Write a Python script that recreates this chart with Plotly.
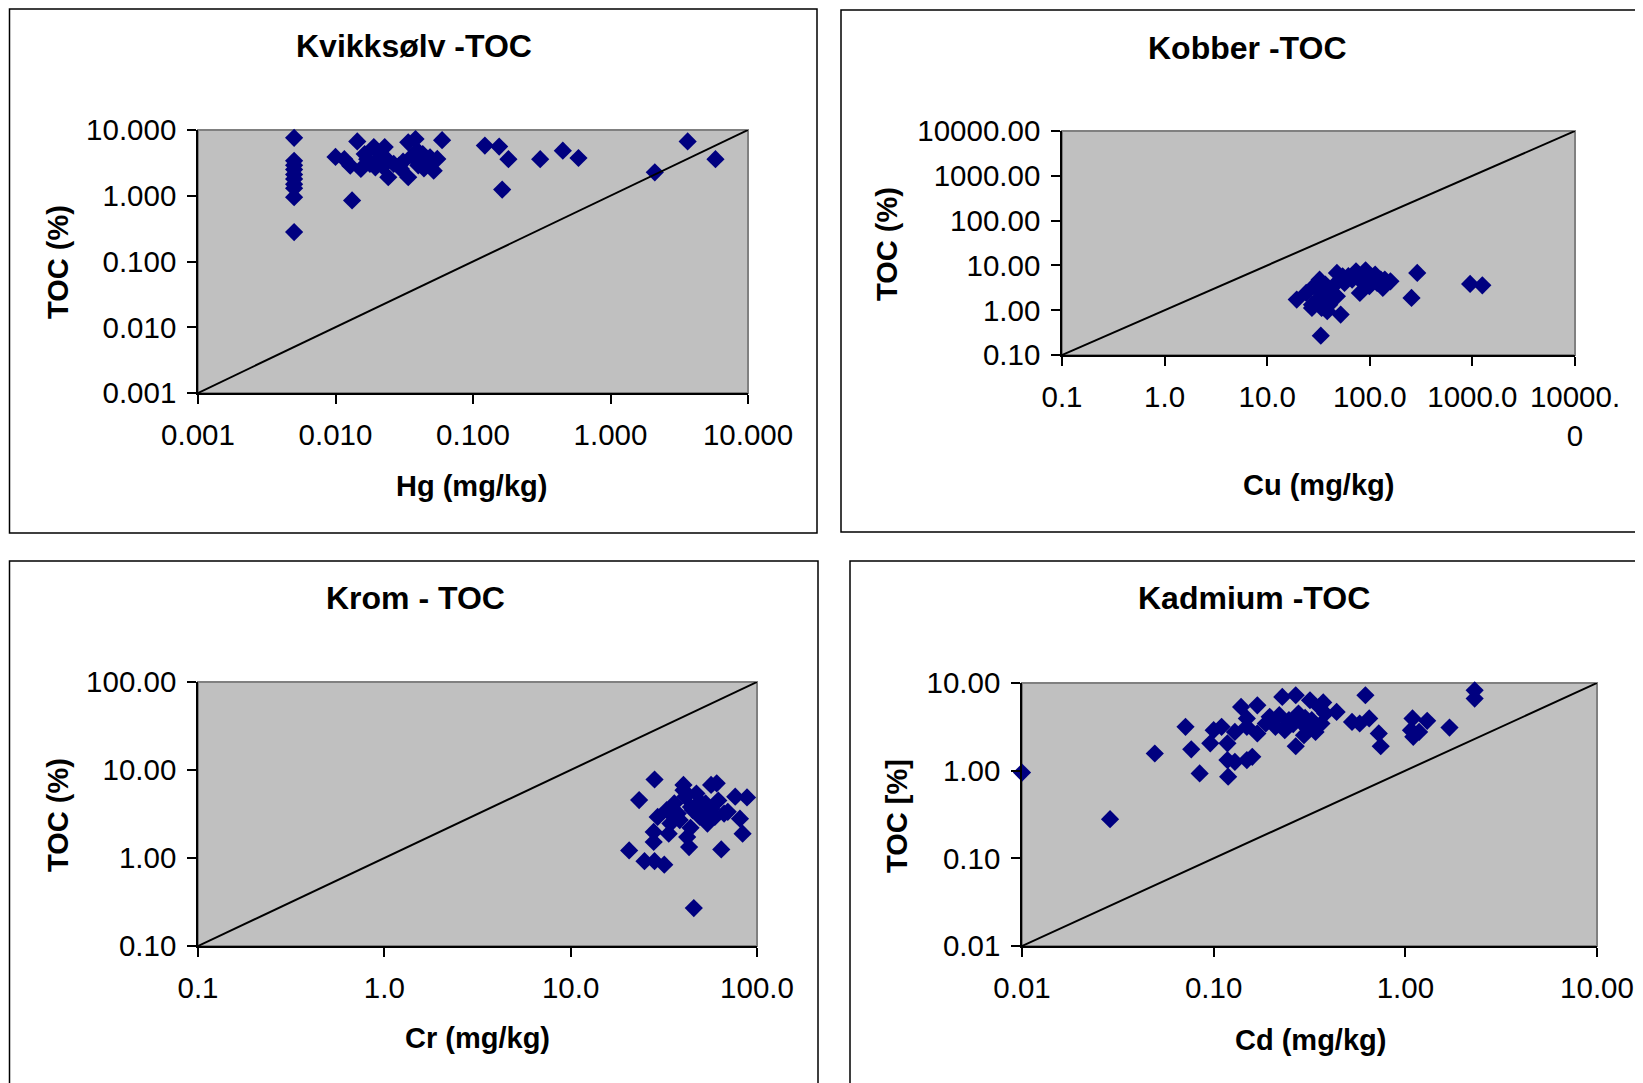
import math
import plotly.graph_objects as go

# ---------------- data ----------------
hg_x = [0.005, 0.005, 0.005, 0.005, 0.005, 0.005, 0.005, 0.005, 0.005, 0.005,
        0.010, 0.0116, 0.0132, 0.0144, 0.0128, 0.0153, 0.0163, 0.0178, 0.019, 0.0195,
        0.0228, 0.0242, 0.0242, 0.0265, 0.029, 0.0299, 0.0338, 0.0338, 0.0382, 0.0394,
        0.0406, 0.0431, 0.0459, 0.0487, 0.0518, 0.055, 0.0596, 0.017, 0.021, 0.022,
        0.031, 0.036, 0.040, 0.044, 0.122, 0.155, 0.181, 0.163, 0.308, 0.45,
        0.585, 2.1, 3.64, 5.8]
hg_toc = [7.6, 3.4, 2.9, 2.5, 2.1, 1.8, 1.5, 1.3, 0.95, 0.28,
          3.9, 3.6, 0.85, 6.7, 2.87, 2.56, 4.3, 3.05, 5.5, 2.71,
          5.5, 3.42, 1.91, 3.05, 2.87, 2.56, 1.91, 6.5, 7.3, 4.85,
          3.42, 4.3, 3.05, 3.85, 2.41, 3.63, 7.0, 3.6, 3.9, 2.8,
          3.3, 4.0, 2.9, 2.6, 5.8, 5.6, 3.6, 1.24, 3.6, 4.85,
          3.75, 2.27, 6.7, 3.6]

cu_x = [19.4, 24, 27.3, 32.4, 33.3, 38.5, 47.8, 52, 40, 43.8,
        56.7, 61.8, 73.4, 80, 91, 99, 112.8, 128, 134, 159,
        290, 255, 950, 1250, 28.5, 35.4, 36.9, 45.7, 54.3, 67.3,
        76.6, 87, 95, 103.5, 117.8, 140, 31.1, 40.2, 47.8, 33.9, 27.3]
cu_toc = [1.73, 2.43, 1.33, 4.8, 0.27, 0.95, 6.8, 0.8, 2.9, 2.05,
          4.07, 5.75, 7.4, 2.43, 7.8, 3.43, 6.25, 4.8, 3.15, 4.4,
          6.8, 1.88, 3.86, 3.6, 3.43, 2.43, 3.73, 3.73, 5.73, 4.83,
          5.26, 4.43, 5.73, 4.83, 4.07, 4.83, 1.73, 1.33, 2.05, 1.12, 1.12]

cr_x = [28.2, 23.3, 20.6, 24.9, 28.2, 31.8, 45.8, 64.3, 27.9, 27.9,
        42.2, 43.2, 33.6, 76.4, 88.4, 81, 83.7, 60.8, 56.7, 40.3,
        40.3, 29.3, 32.8, 36, 37.6, 41.2, 44.2, 47.3, 49.4, 53,
        54.2, 59.4, 66.6, 69.7, 34.3, 49.4, 45.2, 38.5, 51, 57,
        62, 44, 36.5]
cr_toc = [7.8, 4.55, 1.22, 0.92, 0.92, 0.84, 0.27, 1.25, 1.98, 1.52,
          1.73, 1.33, 1.89, 4.97, 4.88, 2.8, 1.89, 7.06, 6.76, 6.76,
          5.9, 2.93, 3.5, 4.17, 3.2, 4.97, 3.8, 5.4, 2.93, 4.17,
          2.46, 2.93, 3.2, 3.35, 2.46, 4.36, 3.5, 2.7, 3.3, 3.6,
          4.5, 2.2, 2.9]

cd_x = [0.01, 0.0288, 0.0493, 0.0713, 0.0764, 0.0845, 0.096, 0.1, 0.110, 0.118,
        0.119, 0.118, 0.129, 0.139, 0.149, 0.159, 0.149, 0.149, 0.129, 0.169,
        0.169, 0.196, 0.187, 0.21, 0.228, 0.235, 0.247, 0.268, 0.268, 0.277,
        0.29, 0.296, 0.318, 0.325, 0.34, 0.356, 0.373, 0.365, 0.382, 0.438,
        0.527, 0.578, 0.619, 0.648, 0.727, 0.744, 1.09, 1.1, 1.07, 1.18,
        1.3, 1.7, 2.3, 2.3, 0.22, 0.26, 0.3, 0.31, 0.24]
cd_toc = [0.95, 0.28, 1.57, 3.16, 1.75, 0.93, 2.05, 2.9, 3.16, 2.05,
          0.855, 1.32, 1.26, 5.33, 1.32, 1.44, 3.94, 3.16, 2.77, 5.57,
          2.66, 4.11, 3.45, 3.16, 6.93, 2.9, 3.77, 7.25, 1.9, 4.49,
          3.45, 2.54, 6.36, 3.77, 2.77, 5.33, 6.0, 3.45, 4.49, 4.68,
          3.6, 3.45, 7.25, 3.94, 2.66, 1.9, 3.94, 2.43, 2.9, 2.77,
          3.7, 3.1, 8.26, 6.64, 4.3, 3.4, 4.0, 3.0, 3.3]

hg_ticks = [0.001, 0.01, 0.1, 1, 10]
hg_ticktext = ["0.001", "0.010", "0.100", "1.000", "10.000"]
cu_xticks = [0.1, 1, 10, 100, 1000, 10000]
cu_xticktext = ["0.1", "1.0", "10.0", "100.0", "1000.0", "10000.<br>0"]
cu_yticks = [0.1, 1, 10, 100, 1000, 10000]
cu_yticktext = ["0.10", "1.00", "10.00", "100.00", "1000.00", "10000.00"]
cr_xticks = [0.1, 1, 10, 100]
cr_xticktext = ["0.1", "1.0", "10.0", "100.0"]
cr_yticks = [0.1, 1, 10, 100]
cr_yticktext = ["0.10", "1.00", "10.00", "100.00"]
cd_ticks = [0.01, 0.1, 1, 10]
cd_ticktext = ["0.01", "0.10", "1.00", "10.00"]

titles = ["Kvikksølv -TOC", "Kobber -TOC", "Krom - TOC", "Kadmium -TOC"]
xtitles = ["Hg (mg/kg)", "Cu (mg/kg)", "Cr (mg/kg)", "Cd (mg/kg)"]
ytitles = ["TOC (%)", "TOC (%)", "TOC (%)", "TOC [%]"]

# ---------------- layout helpers ----------------
# the page body has an 8px margin, so the figure is placed at (8, 8)
OFF = 8
W, H = 1643 - OFF, 1083 - OFF
FONT = "Arial, Liberation Sans, sans-serif"


def fx(p):
    return (p - OFF) / W


def fy(p):
    return 1 - (p - OFF) / H


panels = [
    dict(x=hg_x, y=hg_toc, xt=hg_ticks, xtt=hg_ticktext, yt=hg_ticks, ytt=hg_ticktext,
         plot=(198, 748, 130, 393), box=(9.5, 817, 9, 533),
         title=(414, 46), xtitle=(472, 486), ytitle=(58, 262)),
    dict(x=cu_x, y=cu_toc, xt=cu_xticks, xtt=cu_xticktext, yt=cu_yticks, ytt=cu_yticktext,
         plot=(1062, 1575, 131, 355), box=(841, 1700, 10, 532),
         title=(1247, 48), xtitle=(1318, 485), ytitle=(887, 244)),
    dict(x=cr_x, y=cr_toc, xt=cr_xticks, xtt=cr_xticktext, yt=cr_yticks, ytt=cr_yticktext,
         plot=(198, 757, 682, 946), box=(9.5, 818, 561, 1200),
         title=(415, 598), xtitle=(478, 1038), ytitle=(58, 815)),
    dict(x=cd_x, y=cd_toc, xt=cd_ticks, xtt=cd_ticktext, yt=cd_ticks, ytt=cd_ticktext,
         plot=(1022, 1597, 683, 946), box=(850, 1700, 561, 1200),
         title=(1254, 598), xtitle=(1310, 1040), ytitle=(897, 816)),
]

fig = go.Figure()
shapes = []
annotations = []
layout = {}

for i, p in enumerate(panels):
    n = "" if i == 0 else str(i + 1)
    xa, ya = "x" + n, "y" + n
    l, r, t, b = p["plot"]
    xt, yt = p["xt"], p["yt"]

    # scatter points
    fig.add_trace(go.Scatter(
        x=p["x"], y=p["y"], mode="markers", xaxis=xa, yaxis=ya,
        marker=dict(symbol="diamond", size=14, color="#000080",
                    line=dict(width=0)),
        showlegend=False, cliponaxis=False))
    # 1:1 reference line across the axis range
    lo = max(xt[0], yt[0])
    hi = min(xt[-1], yt[-1])
    fig.add_trace(go.Scatter(
        x=[lo, hi], y=[lo, hi], mode="lines", xaxis=xa, yaxis=ya,
        line=dict(color="black", width=2), showlegend=False))

    axcommon = dict(type="log", showgrid=False, zeroline=False, automargin=False,
                    ticks="outside", ticklen=9, tickwidth=1.5, tickcolor="black",
                    showline=True, linecolor="black", linewidth=1.5,
                    tickfont=dict(family=FONT, size=29.5, color="black"),
                    fixedrange=True)
    layout["xaxis" + n] = dict(axcommon, domain=[fx(l), fx(r)], anchor=ya,
                               range=[math.log10(xt[0]), math.log10(xt[-1])],
                               tickvals=xt, ticktext=p["xtt"], ticklabelstandoff=6)
    layout["yaxis" + n] = dict(axcommon, domain=[fy(b), fy(t)], anchor=xa,
                               range=[math.log10(yt[0]), math.log10(yt[-1])],
                               tickvals=yt, ticktext=p["ytt"], ticklabelstandoff=5)

    # plot area border (grey)
    shapes.append(dict(type="rect", xref="paper", yref="paper",
                       x0=fx(l), x1=fx(r), y0=fy(b), y1=fy(t),
                       line=dict(color="#808080", width=2), layer="below"))
    # chart box
    bl, br, bt, bb = p["box"]
    shapes.append(dict(type="rect", xref="paper", yref="paper",
                       x0=fx(bl), x1=fx(br), y0=fy(bb), y1=fy(bt),
                       line=dict(color="black", width=1.5), layer="above"))

    tx, ty = p["title"]
    annotations.append(dict(text="<b>%s</b>" % titles[i], x=fx(tx), y=fy(ty),
                            xref="paper", yref="paper", showarrow=False,
                            xanchor="center", yanchor="middle",
                            font=dict(family=FONT, size=32, color="black")))
    tx, ty = p["xtitle"]
    annotations.append(dict(text="<b>%s</b>" % xtitles[i], x=fx(tx), y=fy(ty),
                            xref="paper", yref="paper", showarrow=False,
                            xanchor="center", yanchor="middle",
                            font=dict(family=FONT, size=29, color="black")))
    tx, ty = p["ytitle"]
    annotations.append(dict(text="<b>%s</b>" % ytitles[i], x=fx(tx), y=fy(ty),
                            xref="paper", yref="paper", showarrow=False,
                            xanchor="center", yanchor="middle", textangle=-90,
                            font=dict(family=FONT, size=29, color="black")))

fig.update_layout(
    template="none",
    width=W, height=H, margin=dict(l=0, r=0, t=0, b=0, autoexpand=False),
    paper_bgcolor="white", plot_bgcolor="#C0C0C0",
    font=dict(family=FONT, color="black"),
    shapes=shapes, annotations=annotations, showlegend=False,
    **layout)

fig.write_html("out.html")
